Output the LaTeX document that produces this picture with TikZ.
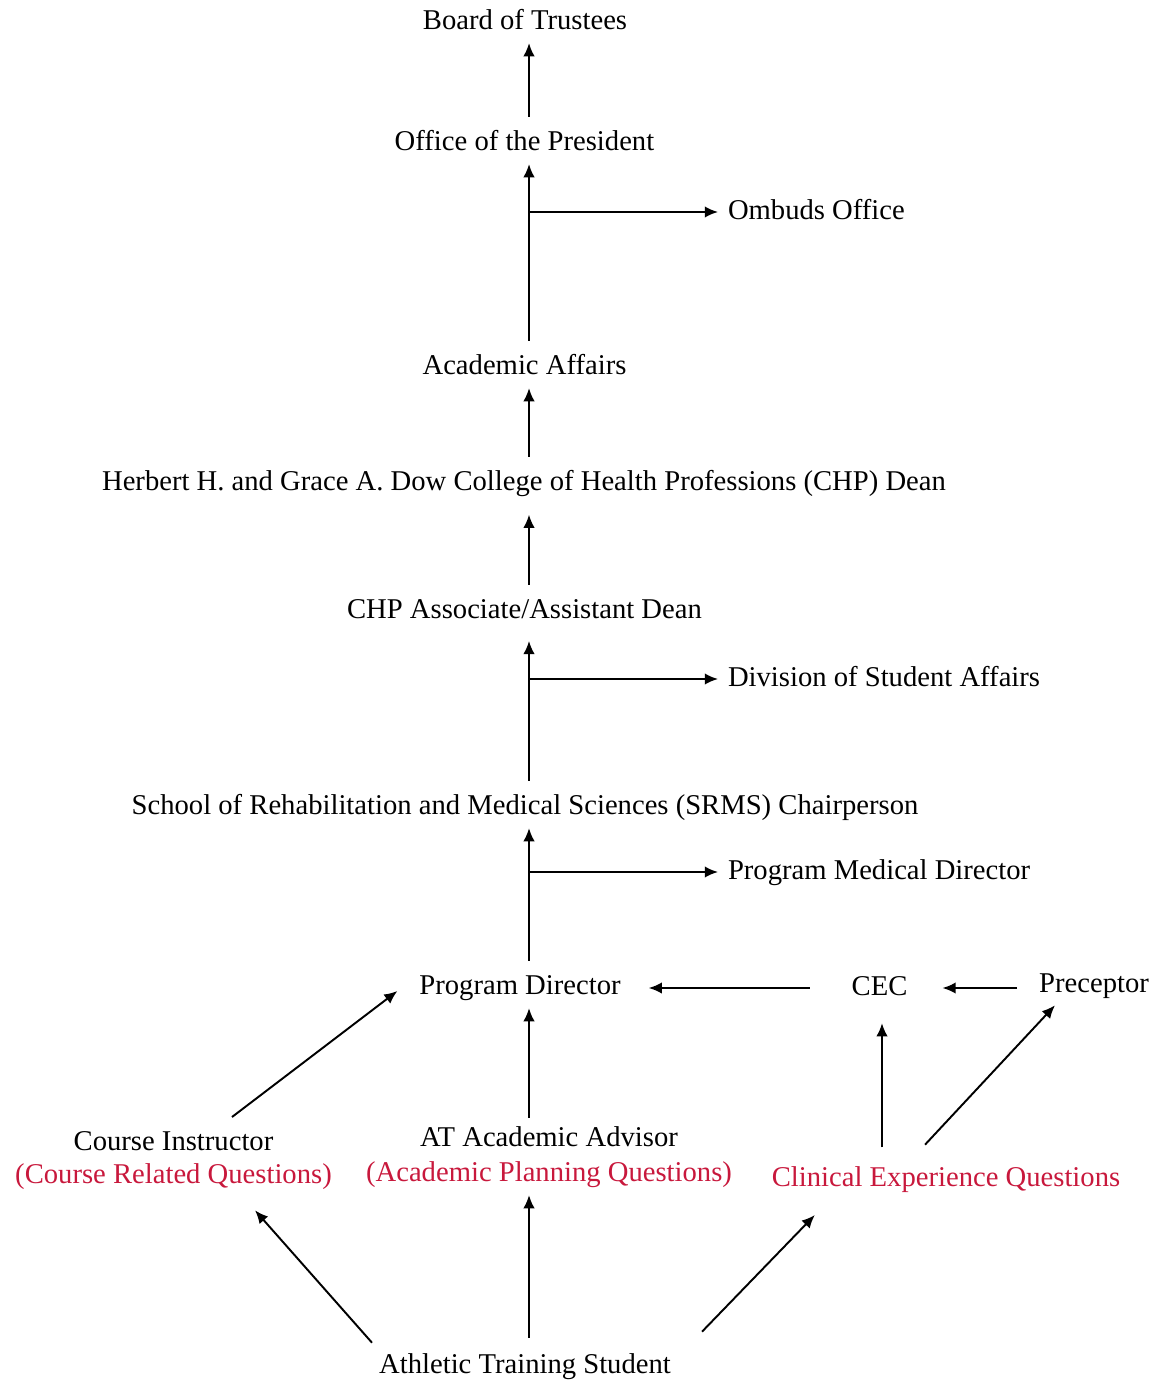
\documentclass[tikz,border=0pt]{standalone}
\usepackage{fontspec}
\setmainfont{Liberation Serif}
\usepackage{tikz}
\usetikzlibrary{arrows.meta,calc}
\definecolor{qred}{RGB}{200,24,60}

\begin{document}
\begin{tikzpicture}[x=0.02cm,y=-0.02cm,
    every node/.style={inner sep=0pt,outer sep=0pt,text height=11pt,text depth=3pt,
      font=\fontsize{16.3pt}{19pt}\selectfont},
    q/.style={text=qred},
    link/.style={line width=1.1pt,-{Latex[length=7.5pt,width=6.5pt]},shorten <=8pt,shorten >=5pt}]
  \useasboundingbox (0,0) rectangle (1161,1381);
  \coordinate (spine) at (529,0);

  \node (board) at (525,22) {Board of Trustees};
  \node (pres) at (524.5,143) {Office of the President};
  \node[anchor=west] (ombuds) at (728,212) {Ombuds Office};
  \node (acad) at (524.5,367) {Academic Affairs};
  \node (dean) at (524,483) {Herbert H. and Grace A. Dow College of Health Professions (CHP) Dean};
  \node (assoc) at (524.5,611) {CHP Associate/Assistant Dean};
  \node[anchor=west] (dsa) at (728,679) {Division of Student Affairs};
  \node (srms) at (525,807) {School of Rehabilitation and Medical Sciences (SRMS) Chairperson};
  \node[anchor=west] (pmd) at (728,872) {Program Medical Director};
  \node (pd) at (520,987) {Program Director};
  \node (cec) at (879.5,988) {CEC};
  \node (prec) at (1094,985) {Preceptor};
  \node (ci) at (173.5,1143) {Course Instructor};
  \node[q] (crq) at (173.5,1176) {(Course Related Questions)};
  \node (atadv) at (549,1139) {AT Academic Advisor};
  \node[q] (apq) at (549,1174) {(Academic Planning Questions)};
  \node[q] (ceq) at (946,1179) {Clinical Experience Questions};
  \node (stud) at (525,1366) {Athletic Training Student};

  % the main line up
  \draw[link] (pres.north -| spine) -- (board.south -| spine);
  \draw[link] (acad.north -| spine) -- (pres.south -| spine);
  \draw[link] (dean.north -| spine) -- (acad.south -| spine);
  \draw[link,shorten >=11pt] (assoc.north -| spine) -- (dean.south -| spine);
  \draw[link,shorten >=10pt] (srms.north -| spine) -- (assoc.south -| spine);
  \draw[link] (pd.north -| spine) -- (srms.south -| spine);
  \draw[link,shorten <=5pt] (atadv.north -| spine) -- (pd.south -| spine);
  \draw[link,shorten <=9pt] (stud.north -| spine) -- (apq.south -| spine);

  % side offices
  \draw[link,shorten <=0pt,shorten >=5.7pt] (spine |- ombuds.west) -- (ombuds.west);
  \draw[link,shorten <=0pt,shorten >=5.7pt] (spine |- dsa.west) -- (dsa.west);
  \draw[link,shorten <=0pt,shorten >=5.7pt] (spine |- pmd.west) -- (pmd.west);

  % clinical side
  \draw[link,shorten <=24pt,shorten >=16pt] (cec.west) -- (pd.east |- cec.west);
  \draw[link,shorten <=12.5pt,shorten >=20pt] (prec.west |- cec.east) -- (cec.east);
  \draw[link,shorten <=11pt,shorten >=13pt] ($(ceq.north -| cec.south)+(2.5,0)$) -- ($(cec.south)+(2.5,0)$);
  \draw[link,shorten <=0pt,shorten >=0pt] ($(ceq.north)+(-21,-22)$) -- ($(prec.south)+(-39,8)$);

  % students and instructors
  \draw[link,shorten <=0pt,shorten >=0pt] ($(ci.north)+(58.5,-13.7)$) -- ($(pd.west)+(-22,4)$);
  \draw[link,shorten <=0pt,shorten >=0pt] ($(stud.north)+(-153,-11)$) -- ($(crq.south)+(81.5,22)$);
  \draw[link,shorten <=0pt,shorten >=0pt] ($(stud.north)+(177,-22)$) -- ($(ceq.west)+(43,36)$);
\end{tikzpicture}
\end{document}
